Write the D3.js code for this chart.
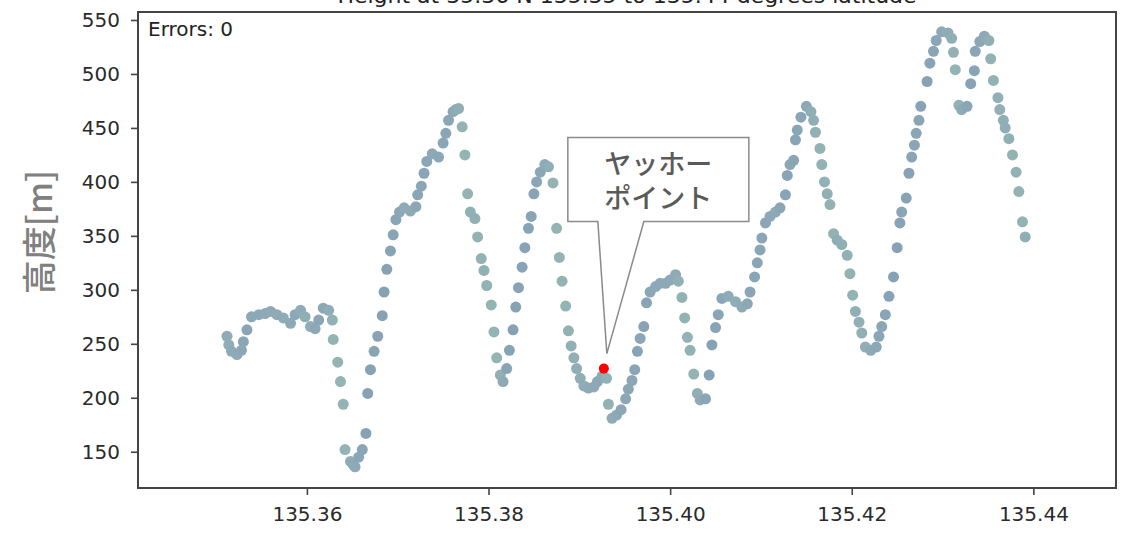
<!DOCTYPE html>
<html>
<head>
<meta charset="utf-8">
<script src="https://d3js.org/d3.v7.min.js"></script>
<style>
  body { margin: 0; background: #fff; }
</style>
</head>
<body>
<svg id="chart"></svg>
<script>
// track longitude (deg) and height (m)
const lon = [
  135.3512, 135.3514, 135.3517, 135.3523, 135.3528, 135.3530, 135.3534, 135.3539, 135.3547, 135.3554,
  135.3560, 135.3567, 135.3574, 135.3582, 135.3587, 135.3593, 135.3598, 135.3604, 135.3609, 135.3613,
  135.3618, 135.3624, 135.3628, 135.3629, 135.3634, 135.3637, 135.3640, 135.3642, 135.3648, 135.3651,
  135.3653, 135.3657, 135.3661, 135.3665, 135.3667, 135.3670, 135.3674, 135.3678, 135.3683, 135.3685,
  135.3688, 135.3692, 135.3695, 135.3698, 135.3702, 135.3707, 135.3714, 135.3720, 135.3722, 135.3726,
  135.3729, 135.3732, 135.3738, 135.3745, 135.3750, 135.3753, 135.3756, 135.3761, 135.3764, 135.3767,
  135.3771, 135.3774, 135.3777, 135.3780, 135.3785, 135.3788, 135.3792, 135.3795, 135.3798, 135.3803,
  135.3806, 135.3809, 135.3813, 135.3816, 135.3820, 135.3823, 135.3827, 135.3830, 135.3833, 135.3837,
  135.3840, 135.3844, 135.3847, 135.3850, 135.3853, 135.3857, 135.3862, 135.3866, 135.3871, 135.3875,
  135.3878, 135.3881, 135.3885, 135.3888, 135.3891, 135.3894, 135.3897, 135.3901, 135.3905, 135.3910,
  135.3916, 135.3920, 135.3925, 135.3930, 135.3932, 135.3936, 135.3941, 135.3946, 135.3951, 135.3954,
  135.3958, 135.3961, 135.3964, 135.3967, 135.3971, 135.3974, 135.3978, 135.3984, 135.3989, 135.3995,
  135.4000, 135.4006, 135.4009, 135.4013, 135.4016, 135.4019, 135.4022, 135.4026, 135.4030, 135.4033,
  135.4039, 135.4043, 135.4046, 135.4050, 135.4053, 135.4057, 135.4064, 135.4072, 135.4079, 135.4085,
  135.4088, 135.4093, 135.4096, 135.4099, 135.4101, 135.4105, 135.4110, 135.4116, 135.4121, 135.4127,
  135.4129, 135.4132, 135.4136, 135.4138, 135.4140, 135.4144, 135.4150, 135.4155, 135.4158, 135.4160,
  135.4165, 135.4167, 135.4170, 135.4173, 135.4176, 135.4180, 135.4184, 135.4189, 135.4195, 135.4198,
  135.4201, 135.4204, 135.4208, 135.4211, 135.4215, 135.4221, 135.4227, 135.4230, 135.4233, 135.4237,
  135.4241, 135.4246, 135.4250, 135.4253, 135.4255, 135.4260, 135.4263, 135.4266, 135.4269, 135.4271,
  135.4274, 135.4276, 135.4283, 135.4286, 135.4290, 135.4293, 135.4299, 135.4306, 135.4310, 135.4312,
  135.4314, 135.4318, 135.4321, 135.4327, 135.4331, 135.4335, 135.4336, 135.4341, 135.4346, 135.4351,
  135.4353, 135.4356, 135.4361, 135.4363, 135.4367, 135.4369, 135.4373, 135.4377, 135.4381, 135.4384,
  135.4388, 135.4391
];
const height = [
  257, 249, 243, 240, 244, 252, 263, 275, 277, 278,
  280, 277, 274, 269, 277, 281, 275, 266, 264, 272,
  283, 281, 272, 254, 233, 215, 194, 152, 141, 138,
  136, 145, 152, 167, 204, 226, 243, 257, 276, 298,
  319, 336, 351, 365, 372, 376, 373, 377, 388, 396,
  408, 419, 426, 423, 436, 445, 457, 465, 467, 468,
  451, 425, 389, 372, 366, 349, 329, 318, 304, 286,
  261, 237, 221, 215, 227, 244, 263, 284, 302, 321,
  339, 357, 368, 389, 400, 409, 416, 414, 399, 357,
  330, 308, 285, 262, 248, 237, 227, 218, 211, 209,
  210, 215, 220, 218, 194, 181, 184, 189, 199, 208,
  216, 226, 243, 255, 266, 288, 298, 303, 306, 306,
  309, 314, 308, 293, 274, 256, 244, 222, 204, 198,
  199, 221, 249, 265, 277, 292, 294, 289, 284, 287,
  298, 312, 325, 337, 348, 362, 368, 372, 376, 388,
  406, 416, 420, 439, 448, 460, 470, 465, 457, 446,
  431, 416, 400, 389, 379, 352, 346, 342, 332, 315,
  295, 280, 270, 260, 247, 244, 247, 257, 266, 277,
  294, 312, 339, 362, 372, 385, 408, 423, 434, 445,
  457, 470, 493, 510, 521, 531, 539, 538, 533, 520,
  504, 471, 467, 470, 491, 503, 521, 530, 535, 531,
  514, 494, 478, 467, 457, 450, 440, 425, 409, 391,
  363, 349
];

// highlighted point
const markLon = [135.3927];
const markHeight = [227];
const markLabel = ["ヤッホー", "ポイント"];

const xTicks = [135.36, 135.38, 135.40, 135.42, 135.44];
const yTicks = [150, 200, 250, 300, 350, 400, 450, 500, 550];

const W = 1127, H = 533;
const plot = { left: 138, right: 1116, top: 12, bottom: 488 };

const svg = d3.select("#chart")
  .attr("width", W)
  .attr("height", H)
  .style("font-family", "'DejaVu Sans', sans-serif");

const x = d3.scaleLinear()
  .domain([135.3414, 135.4491])
  .range([plot.left, plot.right]);

const y = d3.scaleLinear()
  .domain([116.4, 557.4])
  .range([plot.bottom, plot.top]);

// title, cut off by the top edge of the screenshot
svg.append("text")
  .attr("x", (plot.left + plot.right) / 2)
  .attr("y", 3)
  .attr("text-anchor", "middle")
  .style("font-size", "22px")
  .style("fill", "#222")
  .text("Height at 35.36 N 135.35 to 135.44 degrees latitude");

// points, tinted a little by whether the track climbs or drops
const pts = lon.map((v, i) => ({ lon: v, h: height[i] }));
const slope = pts.map((d, i) => {
  const a = pts[Math.max(0, i - 1)].h, b = pts[Math.min(pts.length - 1, i + 1)].h;
  return b - a;
});
const tint = d3.scaleLinear()
  .domain([-40, 0, 40])
  .range(["#93b4b2", "#8eaab7", "#87a2b5"])
  .clamp(true);

svg.append("g")
  .selectAll("circle")
  .data(pts)
  .enter()
  .append("circle")
  .attr("cx", d => x(d.lon))
  .attr("cy", d => y(d.h))
  .attr("r", 5.5)
  .attr("fill", (d, i) => tint(slope[i]));

// frame
svg.append("rect")
  .attr("x", plot.left)
  .attr("y", plot.top)
  .attr("width", plot.right - plot.left)
  .attr("height", plot.bottom - plot.top)
  .attr("fill", "none")
  .attr("stroke", "#444")
  .attr("stroke-width", 2);

// axes
const xAxis = svg.append("g")
  .attr("transform", `translate(0,${plot.bottom})`)
  .call(d3.axisBottom(x).tickValues(xTicks).tickFormat(d3.format(".2f")).tickSize(7).tickPadding(12));
const yAxis = svg.append("g")
  .attr("transform", `translate(${plot.left},0)`)
  .call(d3.axisLeft(y).tickValues(yTicks).tickSize(7).tickPadding(11));

[xAxis, yAxis].forEach(g => {
  g.select(".domain").remove();
  g.selectAll(".tick line").attr("stroke", "#444").attr("stroke-width", 1.6);
  g.selectAll(".tick text")
    .style("font-family", "'DejaVu Sans', sans-serif")
    .style("font-size", "20px")
    .style("fill", "#2a2a2a");
});

// y label
svg.append("text")
  .attr("transform", `translate(52,${(plot.top + plot.bottom) / 2 - 18}) rotate(-90)`)
  .attr("text-anchor", "middle")
  .style("font-family", "'Noto Sans CJK JP', sans-serif")
  .style("font-size", "34px")
  .style("font-weight", 500)
  .style("fill", "#808080")
  .text("高度[m]");

// error counter
svg.append("text")
  .attr("x", plot.left + 10)
  .attr("y", 36)
  .style("font-size", "20px")
  .style("fill", "#222")
  .text("Errors: 0");

// callout pointing at the marked point
const mx = x(markLon[0]), my = y(markHeight[0]);
const box = { x0: mx - 36, x1: mx + 145, y0: my - 231, y1: my - 147 };
const tip = [mx + 3, my - 15];
const callout = d3.path();
callout.moveTo(box.x0, box.y0);
callout.lineTo(box.x1, box.y0);
callout.lineTo(box.x1, box.y1);
callout.lineTo(mx + 40, box.y1);
callout.lineTo(tip[0], tip[1]);
callout.lineTo(mx - 6, box.y1);
callout.lineTo(box.x0, box.y1);
callout.closePath();

svg.append("path")
  .attr("d", callout.toString())
  .attr("fill", "#fff")
  .attr("stroke", "#8a8a8a")
  .attr("stroke-width", 1.5);

const label = svg.append("text")
  .attr("text-anchor", "middle")
  .style("font-family", "'Noto Sans CJK JP', sans-serif")
  .style("font-size", "27px")
  .style("font-weight", 500)
  .style("fill", "#5a5a5a");

label.selectAll("tspan")
  .data(markLabel)
  .enter()
  .append("tspan")
  .attr("x", (box.x0 + box.x1) / 2)
  .attr("y", (d, i) => box.y0 + 36 + i * 34)
  .text(d => d);

svg.append("circle")
  .attr("cx", mx)
  .attr("cy", my)
  .attr("r", 5)
  .attr("fill", "#ff0000");
</script>
</body>
</html>
